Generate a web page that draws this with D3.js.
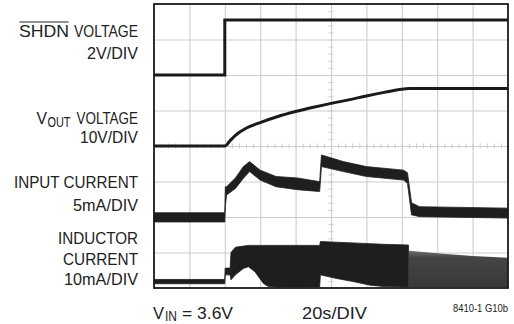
<!DOCTYPE html>
<html>
<head>
<meta charset="utf-8">
<script src="https://cdn.jsdelivr.net/npm/d3@7"></script>
<style>
  html, body { margin: 0; padding: 0; background: #fff; }
  svg { display: block; }
  text { font-family: "Liberation Sans", Arial, sans-serif; fill: #222; }
</style>
</head>
<body>
<svg id="chart" width="514" height="324"></svg>
<script>
// ---- data (time in seconds, 20 s/div; trace levels in screen divisions from bottom) ----
const timeDomain = [0, 200];
const divDomain = [0, 8];

const shdnT = [0, 40, 40, 200];
const shdnV = [6.0, 6.0, 7.55, 7.55];

const voutT = [0, 40, 43, 46, 52, 60, 70, 80, 90, 100, 110, 120, 130, 140, 144, 200];
const voutV = [4.0, 4.0, 4.15, 4.3, 4.5, 4.66, 4.83, 4.97, 5.09, 5.2, 5.3, 5.41, 5.51, 5.6, 5.62, 5.62];

const inT  = [0,    40,   40.3, 41,   46,   50.5, 54,   60,   69,   81,   93,   93.6, 94.6, 107,  120,  141,  143.2, 145.5, 150,  200];
const inHi = [2.12, 2.12, 2.85, 2.85, 3.1,  3.42, 3.56, 3.32, 3.14, 3.1,  3.0,  3.0,  3.75, 3.56, 3.42, 3.32, 3.25,  2.4,   2.29, 2.25];
const inLo = [1.86, 1.86, 2.3,  2.62, 2.8,  3.09, 3.28, 3.04, 2.85, 2.77, 2.72, 2.72, 3.42, 3.28, 3.14, 3.04, 2.95,  2.06,  2.01, 1.97];

const indT  = [0,    40,   40.2, 43,   43.5, 46,   50.5, 53.3, 57,   61.8, 64.6, 70,   93.6, 94,   103,  112.6, 122,  130,  143.8];
const indHi = [0.24, 0.24, 0.56, 0.56, 1.0,  1.15, 1.18, 1.2,  1.2,  1.2,  1.2,  1.2,  1.2,  1.31, 1.29, 1.27,  1.25, 1.23, 1.21];
const indLo = [0.12, 0.12, 0.37, 0.37, 0.23, 0.37, 0.55, 0.6,  0.46, 0.13, 0.04, 0.03, 0.03, 0.37, 0.27, 0.18,  0.08, 0.04, 0.03];

const indTailT  = [144, 160, 180, 200];
const indTailHi = [1.05, 0.98, 0.9, 0.85];

const shdnLabel = ["SHDN", "VOLTAGE", "2V/DIV"];
const voutLabel = ["V", "OUT", "VOLTAGE", "10V/DIV"];
const inputLabel = ["INPUT CURRENT", "5mA/DIV"];
const inductorLabel = ["INDUCTOR", "CURRENT", "10mA/DIV"];
const footLeft = ["V", "IN", "= 3.6V"];
const footMid = "20s/DIV";
const footRight = "8410-1 G10b";

// ---- drawing ----
const svg = d3.select("#chart");
const L = 154, R = 508, T = 4, B = 288;
const x = d3.scaleLinear().domain(timeDomain).range([L, R]);
const y = d3.scaleLinear().domain(divDomain).range([B, T]);

// grid via axes
const gridX = d3.axisBottom(x).tickValues(d3.range(20, 200, 20)).tickSize(-(B - T)).tickFormat("");
const gridY = d3.axisLeft(y).tickValues(d3.range(1, 8, 1)).tickSize(-(R - L)).tickFormat("");
const gx = svg.append("g").attr("transform", `translate(0,${B})`).call(gridX);
const gy = svg.append("g").attr("transform", `translate(${L},0)`).call(gridY);
[gx, gy].forEach(g => {
  g.select(".domain").remove();
  g.selectAll(".tick line").attr("stroke", "#cdcdcd").attr("stroke-width", 1.1);
});

// minor ticks along the centre lines
const minorX = d3.axisBottom(x).tickValues(d3.range(4, 200, 4)).tickSize(3).tickFormat("");
const mx = svg.append("g").attr("transform", `translate(0,${y(4)})`).call(minorX);
mx.select(".domain").remove();
mx.selectAll(".tick line").attr("y1", -2.5).attr("y2", 2.5).attr("stroke", "#cdcdcd");
const minorY = d3.axisLeft(y).tickValues(d3.range(0.2, 8, 0.2)).tickSize(3).tickFormat("");
const my = svg.append("g").attr("transform", `translate(${x(100)},0)`).call(minorY);
my.select(".domain").remove();
my.selectAll(".tick line").attr("x1", -2.5).attr("x2", 2.5).attr("stroke", "#cdcdcd");

// gradient for the tail of the inductor current
const defs = svg.append("defs");
const grad = defs.append("linearGradient").attr("id", "tailGrad").attr("x1", 0).attr("y1", 0).attr("x2", 0).attr("y2", 1);
grad.append("stop").attr("offset", "0%").attr("stop-color", "#707070");
grad.append("stop").attr("offset", "18%").attr("stop-color", "#454545");
grad.append("stop").attr("offset", "100%").attr("stop-color", "#383838");

// inductor current
const indData = indT.map((t, i) => ({ t, hi: indHi[i], lo: indLo[i] }));
svg.append("path").datum(indData)
  .attr("d", d3.area().x(d => x(d.t)).y0(d => y(d.lo)).y1(d => y(d.hi)))
  .attr("fill", "#1e1e1e").attr("stroke", "#1e1e1e").attr("stroke-width", 0.8);
const tailData = indTailT.map((t, i) => ({ t, hi: indTailHi[i] }));
svg.append("path").datum(tailData)
  .attr("d", d3.area().x(d => x(d.t)).y0(y(0.02)).y1(d => y(d.hi)))
  .attr("fill", "url(#tailGrad)");

// input current
const inData = inT.map((t, i) => ({ t, hi: inHi[i], lo: inLo[i] }));
svg.append("path").datum(inData)
  .attr("d", d3.area().x(d => x(d.t)).y0(d => y(d.lo)).y1(d => y(d.hi)))
  .attr("fill", "#1e1e1e").attr("stroke", "#1e1e1e").attr("stroke-width", 0.8);

// VOUT
svg.append("path").datum(voutT.map((t, i) => [t, voutV[i]]))
  .attr("d", d3.line().x(d => x(d[0])).y(d => y(d[1])).curve(d3.curveMonotoneX))
  .attr("fill", "none").attr("stroke", "#1a1a1a").attr("stroke-width", 3);

// SHDN
svg.append("path").datum(shdnT.map((t, i) => [t, shdnV[i]]))
  .attr("d", d3.line().x(d => x(d[0])).y(d => y(d[1])))
  .attr("fill", "none").attr("stroke", "#1a1a1a").attr("stroke-width", 3);

// frame
svg.append("rect").attr("x", L).attr("y", T).attr("width", R - L).attr("height", B - T)
  .attr("fill", "none").attr("stroke", "#1a1a1a").attr("stroke-width", 1.8);

// ---- labels (condensed by fitting to measured widths) ----
function label(xLeft, yBase, width, size, text) {
  return svg.append("text").attr("x", xLeft).attr("y", yBase).attr("font-size", size)
    .attr("textLength", width).attr("lengthAdjust", "spacingAndGlyphs").text(text);
}
const fs = 17;

const sh = label(19, 37, 50, fs, shdnLabel[0]);
{
  const bb = sh.node().getBBox();
  svg.append("line").attr("x1", bb.x + 0.5).attr("x2", bb.x + bb.width - 0.5).attr("y1", 22).attr("y2", 22)
    .attr("stroke", "#222").attr("stroke-width", 1.1);
}
label(74, 37, 64, fs, shdnLabel[1]);
label(87, 59, 51, fs, shdnLabel[2]);

label(36.5, 124, 10.5, fs, voutLabel[0]);
label(47.5, 127, 23, 15, voutLabel[1]);
label(76.5, 124, 61.5, fs, voutLabel[2]);
label(80, 143, 58, fs, voutLabel[3]);

label(14, 188, 124, fs, inputLabel[0]);
label(73, 211, 65, fs, inputLabel[1]);

label(58, 244, 80, fs, inductorLabel[0]);
label(63, 265, 75, fs, inductorLabel[1]);
label(64, 285, 74, fs, inductorLabel[2]);

label(153, 319, 11, fs, footLeft[0]);
label(165, 321, 12, 14, footLeft[1]);
label(182, 319, 51, fs, footLeft[2]);
label(302, 319, 65, fs, footMid);
label(453, 312, 55, 10, footRight);
</script>
</body>
</html>
